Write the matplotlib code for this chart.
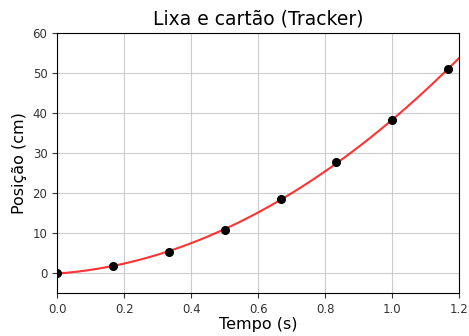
import matplotlib
matplotlib.use("Agg")
import matplotlib.pyplot as plt
import numpy as np

# measured positions (Tracker)
tempo = [0.0, 1/6, 2/6, 3/6, 4/6, 5/6, 1.0, 7/6]
posicao = [0.0, 1.7, 5.3, 10.8, 18.4, 27.7, 38.2, 50.9]

# quadratic fit of the data
coef = np.polyfit(tempo, posicao, 2)
t_fit = np.linspace(0, 1.2, 200)
y_fit = np.polyval(coef, t_fit)

fig, ax = plt.subplots(figsize=(4.69, 3.36), dpi=100)
ax.plot(t_fit, y_fit, color='red', alpha=0.8, linewidth=1.5, zorder=2)
ax.plot(tempo, posicao, 'o', color='black', markersize=5.5, zorder=3)

ax.set_xlim(0, 1.2)
ax.set_ylim(-5, 60)
ax.grid(True, color='#cccccc', linewidth=0.8)
ax.set_axisbelow(True)
ax.tick_params(labelsize=8.5, colors='#333333')
ax.set_title('Lixa e cartão (Tracker)', fontsize=13.5)
ax.set_xlabel('Tempo (s)', fontsize=11.5, labelpad=1)
ax.set_ylabel('Posição (cm)', fontsize=11.5)

plt.subplots_adjust(left=0.122, right=0.979, top=0.902, bottom=0.128)
plt.savefig('out.png', dpi=100)
